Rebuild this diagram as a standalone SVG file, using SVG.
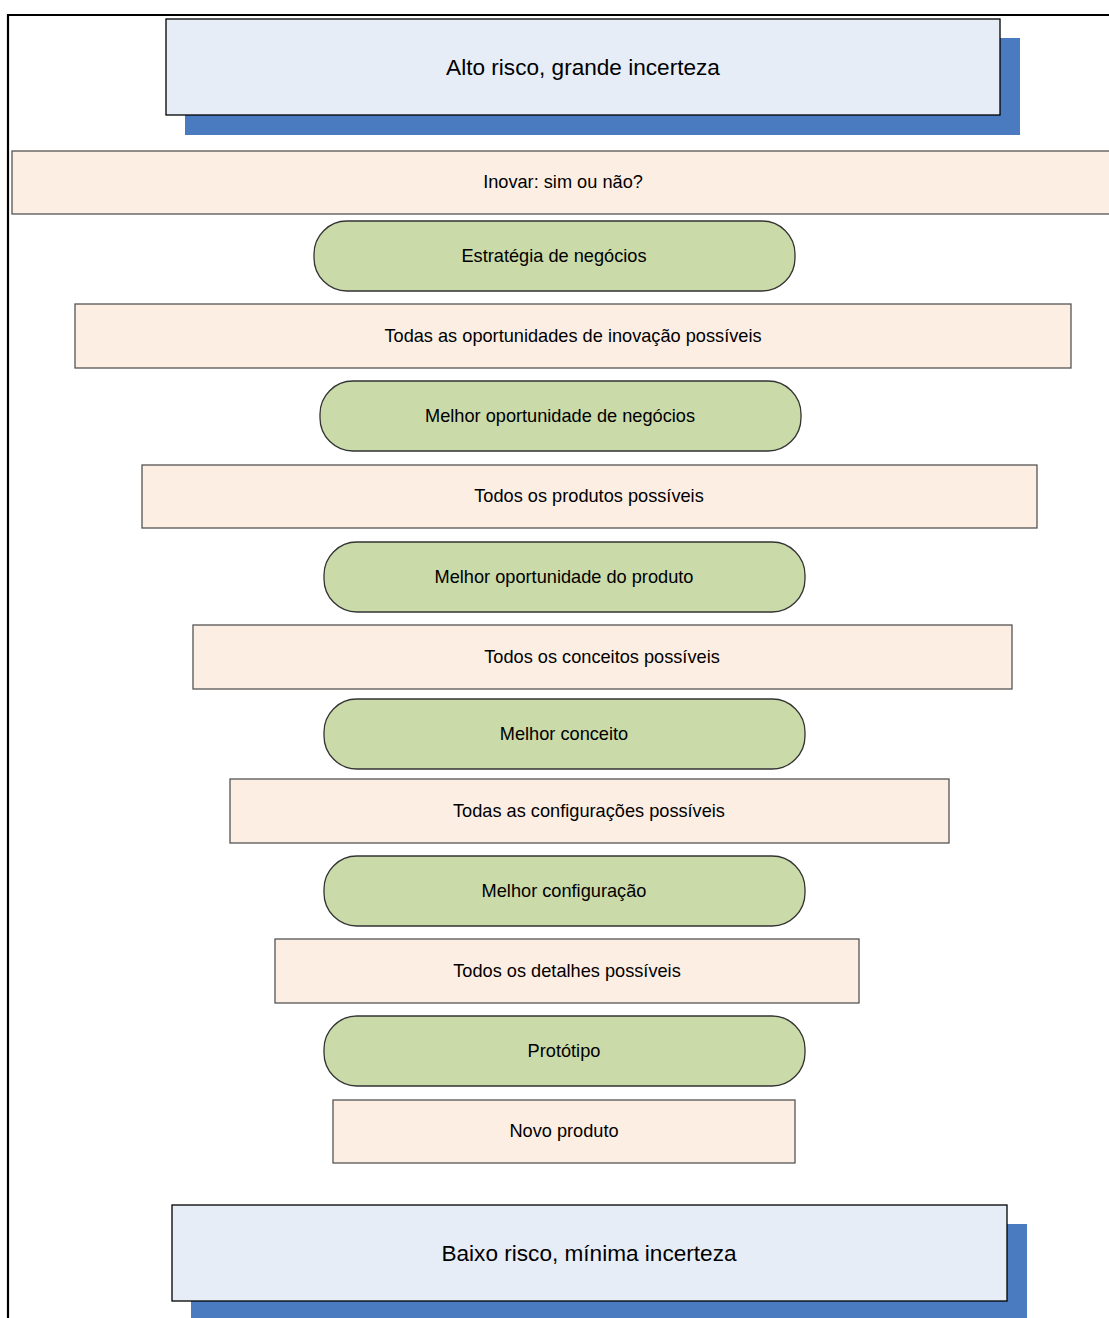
<svg xmlns="http://www.w3.org/2000/svg" width="1109" height="1318" viewBox="0 0 1109 1318">
  <style>
    text { font-family: "Liberation Sans", Arial, sans-serif; fill: #000; text-anchor: middle; dominant-baseline: central; }
    .small { font-size: 18.2px; }
    .big { font-size: 22.6px; }
    .shadow { fill: #4a7ac0; }
    .head { fill: #e6edf7; stroke: #000; stroke-width: 1.3; }
    .stage { fill: #fdeee3; stroke: #555; stroke-width: 1.3; }
    .pick { fill: #cadaa9; stroke: #333; stroke-width: 1.3; }
  </style>
  <rect width="1109" height="1318" fill="#fff"/>
  <!-- outer frame: top and left edges -->
  <path d="M8 1318 V15 H1109" fill="none" stroke="#000" stroke-width="2.2"/>

  <g id="top-risk">
    <rect class="shadow" x="185" y="38" width="835" height="97"/>
    <rect class="head" x="166" y="19" width="834" height="96"/>
    <text class="big" x="583" y="67">Alto risco, grande incerteza</text>
  </g>

  <g id="inovar">
    <rect class="stage" x="12" y="151" width="1102" height="63"/>
    <text class="small" x="563" y="182">Inovar: sim ou não?</text>
  </g>
  <g id="estrategia">
    <rect class="pick" x="314" y="221" width="481" height="70" rx="33"/>
    <text class="small" x="554" y="256">Estratégia de negócios</text>
  </g>
  <g id="oportunidades">
    <rect class="stage" x="75" y="304" width="996" height="64"/>
    <text class="small" x="573" y="336">Todas as oportunidades de inovação possíveis</text>
  </g>
  <g id="melhor-oportunidade">
    <rect class="pick" x="320" y="381" width="481" height="70" rx="33"/>
    <text class="small" x="560" y="416">Melhor oportunidade de negócios</text>
  </g>
  <g id="produtos">
    <rect class="stage" x="142" y="465" width="895" height="63"/>
    <text class="small" x="589" y="496">Todos os produtos possíveis</text>
  </g>
  <g id="melhor-produto">
    <rect class="pick" x="324" y="542" width="481" height="70" rx="33"/>
    <text class="small" x="564" y="577">Melhor oportunidade do produto</text>
  </g>
  <g id="conceitos">
    <rect class="stage" x="193" y="625" width="819" height="64"/>
    <text class="small" x="602" y="657">Todos os conceitos possíveis</text>
  </g>
  <g id="melhor-conceito">
    <rect class="pick" x="324" y="699" width="481" height="70" rx="33"/>
    <text class="small" x="564" y="734">Melhor conceito</text>
  </g>
  <g id="configuracoes">
    <rect class="stage" x="230" y="779" width="719" height="64"/>
    <text class="small" x="589" y="811">Todas as configurações possíveis</text>
  </g>
  <g id="melhor-configuracao">
    <rect class="pick" x="324" y="856" width="481" height="70" rx="33"/>
    <text class="small" x="564" y="891">Melhor configuração</text>
  </g>
  <g id="detalhes">
    <rect class="stage" x="275" y="939" width="584" height="64"/>
    <text class="small" x="567" y="971">Todos os detalhes possíveis</text>
  </g>
  <g id="prototipo">
    <rect class="pick" x="324" y="1016" width="481" height="70" rx="33"/>
    <text class="small" x="564" y="1051">Protótipo</text>
  </g>
  <g id="novo-produto">
    <rect class="stage" x="333" y="1100" width="462" height="63"/>
    <text class="small" x="564" y="1131">Novo produto</text>
  </g>

  <g id="bottom-risk">
    <rect class="shadow" x="191" y="1224" width="836" height="100"/>
    <rect class="head" x="172" y="1205" width="835" height="96"/>
    <text class="big" x="589" y="1253">Baixo risco, mínima incerteza</text>
  </g>

  <g id="connectors"/>
</svg>
